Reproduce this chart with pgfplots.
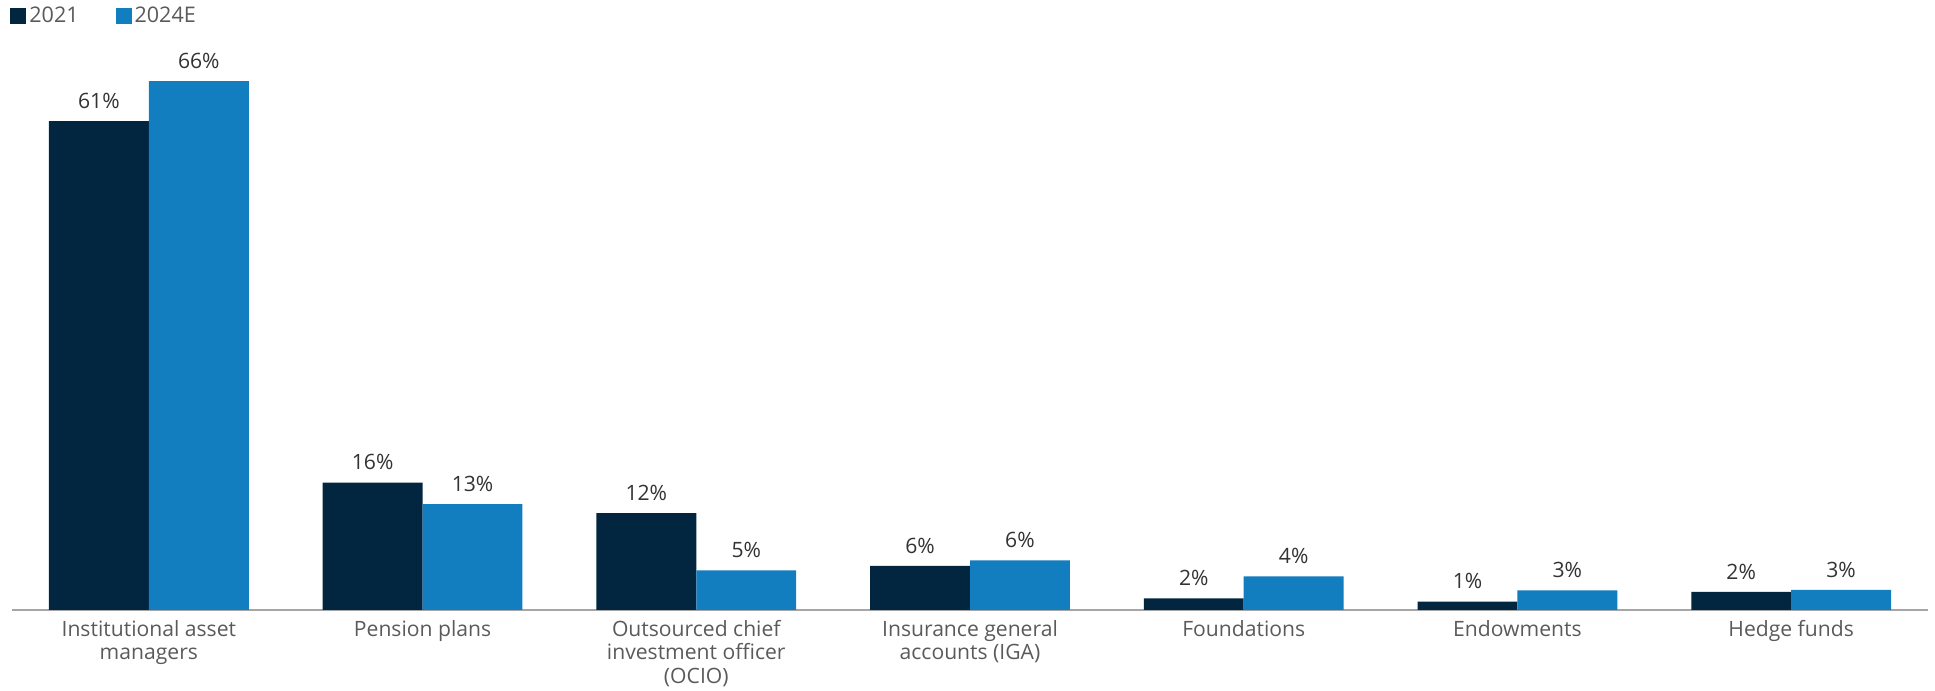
\documentclass[border=0pt]{standalone}
\usepackage{pgfplots}
\pgfplotsset{compat=1.18}
\usepackage{fontspec}
\setmainfont{Open Sans}
\definecolor{cnavy}{HTML}{02263F}
\definecolor{cblue}{HTML}{127DBF}
\definecolor{txt}{HTML}{5A5A5A}
\definecolor{lbl}{HTML}{333333}
\definecolor{axgray}{HTML}{A6A6A6}
\pgfplotsset{sq legend/.style={legend image code/.code={\fill[##1] (0bp,-4bp) rectangle (8bp,4bp);}}}
\begin{document}
\begin{tikzpicture}
\path[use as bounding box] (-6bp,-40.5bp) rectangle (961.5bp,305bp);
\begin{axis}[at={(0,0)}, anchor=south west, scale only axis,
  width=958bp, height=280.5bp,
  ybar=0pt, bar width=0.365,
  xmin=-0.5, xmax=6.5, ymin=0, ymax=70,
  axis x line*=bottom, axis y line=none,
  x axis line style={-, draw=axgray, line width=1bp},
  xtick={0,1,2,3,4,5,6},
  xticklabels={{Institutional asset\\managers},{Pension plans},{Outsourced chief\\investment officer\\(OCIO)},{Insurance general\\accounts (IGA)},{Foundations},{Endowments},{Hedge funds}},
  major tick length=0pt,
  xticklabel style={font=\fontsize{10.6}{11.7}\selectfont, align=center, anchor=north, inner sep=0pt, yshift=-5bp, text=txt},
  nodes near coords, point meta=explicit symbolic,
  every node near coord/.append style={font=\fontsize{10.6}{12}\selectfont, text=lbl, anchor=south, inner sep=0pt, yshift=6bp},
  legend style={at={(0,1)}, anchor=west, xshift=-1bp, yshift=16.5bp, draw=none, fill=none, inner sep=0pt,
    font=\fontsize{10.8}{12}\selectfont, text=txt, nodes={inner sep=1.5bp},
    /tikz/every even column/.append style={column sep=17bp}},
  legend columns=2,
]
\addplot[fill=cnavy, draw=none, sq legend] table[meta=l] {
x y l
0 61 61\%
1 15.9 16\%
2 12.1 12\%
3 5.5 6\%
4 1.45 2\%
5 1.05 1\%
6 2.25 2\%
};
\addplot[fill=cblue, draw=none, sq legend] table[meta=l] {
x y l
0 66 66\%
1 13.2 13\%
2 4.95 5\%
3 6.2 6\%
4 4.2 4\%
5 2.45 3\%
6 2.5 3\%
};
\legend{2021,2024E}
\end{axis}
\end{tikzpicture}
\end{document}
